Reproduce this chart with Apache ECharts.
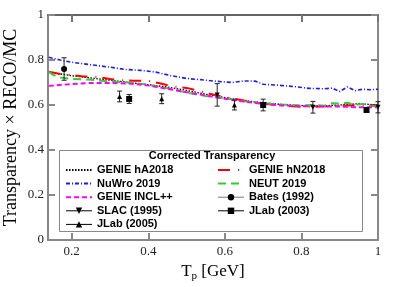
<!DOCTYPE html>
<html><head><meta charset="utf-8">
<script src="https://cdn.jsdelivr.net/npm/echarts@6/dist/echarts.min.js"></script>
<style>html,body{margin:0;padding:0;background:#fff}#c{width:399px;height:287px}</style>
</head><body><div id="c"></div>
<script>
// ---- model curves ----
const hA_T = [0.14,0.17,0.2,0.25,0.3,0.35,0.4,0.45,0.5,0.55,0.6,0.65,0.7,0.75,0.8,0.85,0.9,0.95,1.0];
const hA_V = [0.745,0.738,0.73,0.72,0.71,0.70,0.69,0.68,0.665,0.648,0.633,0.62,0.61,0.602,0.597,0.596,0.6,0.606,0.6];

const hN_T = [0.14,0.17,0.2,0.23,0.26,0.3,0.33,0.36,0.4,0.43,0.46,0.5,0.53,0.56,0.6,0.65,0.7,0.75,0.8,0.85,0.9,0.95,1.0];
const hN_V = [0.748,0.738,0.733,0.727,0.726,0.716,0.71,0.708,0.707,0.697,0.683,0.676,0.664,0.65,0.635,0.62,0.606,0.598,0.592,0.593,0.596,0.6,0.597];

const NuWro_T = [0.14,0.17,0.2,0.25,0.3,0.34,0.38,0.42,0.46,0.5,0.54,0.58,0.62,0.65,0.68,0.7,0.74,0.78,0.82,0.86,0.88,0.9,0.92,0.94,0.96,0.98,1.0];
const NuWro_V = [0.812,0.8,0.79,0.779,0.768,0.758,0.754,0.746,0.73,0.718,0.712,0.705,0.70,0.707,0.706,0.692,0.688,0.682,0.674,0.672,0.675,0.66,0.68,0.664,0.67,0.668,0.67];

const NEUT_T = [0.14,0.15,0.17,0.2,0.25,0.3,0.35,0.4,0.45,0.5,0.55,0.6,0.65,0.7,0.75,0.8,0.83,0.86,0.88,0.9,0.92,0.94,0.96,0.98,1.0];
const NEUT_V = [0.748,0.735,0.722,0.716,0.712,0.705,0.70,0.69,0.674,0.655,0.64,0.63,0.617,0.607,0.602,0.598,0.6,0.597,0.608,0.606,0.61,0.6,0.605,0.596,0.594];

const INCL_T = [0.14,0.2,0.25,0.3,0.35,0.4,0.45,0.5,0.55,0.6,0.65,0.7,0.75,0.8,0.85,0.9,0.95,1.0];
const INCL_V = [0.685,0.693,0.698,0.698,0.695,0.687,0.672,0.657,0.642,0.628,0.615,0.605,0.598,0.595,0.594,0.593,0.59,0.59];

// ---- measurements ----
const SLAC_T = [0.58,0.83,1.0];
const SLAC_V = [0.645,0.59,0.59];
const SLAC_E = [0.05,0.026,0.025];

const JLab05_T = [0.325,0.435,0.625];
const JLab05_V = [0.638,0.628,0.60];
const JLab05_E = [0.024,0.022,0.022];

const Bates_T = [0.18];
const Bates_V = [0.76];
const Bates_E = [0.05];

const JLab03_T = [0.35,0.70,0.97];
const JLab03_V = [0.627,0.60,0.578];
const JLab03_E = [0.02,0.026,0.008];

const xTicks = [0.2,0.4,0.6,0.8,1];

const zip2 = (a,b)=>a.map((v,i)=>[v,b[i]]);
const zip3 = (a,b,c)=>a.map((v,i)=>[v,b[i],c[i]]);

function errRender(params, api){
  const x=api.value(0), y=api.value(1), e=api.value(2);
  const p1=api.coord([x,y+e]), p2=api.coord([x,y-e]);
  const w=2.5, st={stroke:'#222',lineWidth:1};
  return {type:'group', children:[
    {type:'line', shape:{x1:p1[0],y1:p1[1],x2:p2[0],y2:p2[1]}, style:st},
    {type:'line', shape:{x1:p1[0]-w,y1:p1[1],x2:p1[0]+w,y2:p1[1]}, style:st},
    {type:'line', shape:{x1:p2[0]-w,y1:p2[1],x2:p2[0]+w,y2:p2[1]}, style:st}
  ]};
}

function model(name, T, V, color, dash, width){
  return {name, type:'line', data:zip2(T,V), showSymbol:false, symbol:'none', smooth:false,
    lineStyle:{color, type:dash, width}, itemStyle:{color}, z:3};
}
function meas(name, T, V, symbol, size, rot){
  return {name, type:'line', data:zip2(T,V), symbol, symbolSize:size, symbolRotate:rot||0,
    showSymbol:true, clip:false, lineStyle:{opacity:0, color:'#000', width:1},
    itemStyle:{color:'#000'}, z:5};
}
function errs(T,V,E){
  return {type:'custom', renderItem:errRender, data:zip3(T,V,E), clip:false, z:4, silent:true};
}

const legText = {fontFamily:'Liberation Sans, Arial, sans-serif', fontWeight:'bold', fontSize:11, color:'#000', lineHeight:12};
const legLine = {opacity:1, width:1, color:'#000'};
const noSym = {opacity:0};

const chart = echarts.init(document.getElementById('c'), null, {renderer:'canvas'});
chart.setOption({
  animation:false,
  backgroundColor:'#fff',
  grid:{left:48, right:21, top:15, bottom:47, containLabel:false, outerBoundsMode:'none'},
  xAxis:[{
    type:'value', min:0.138, max:1, position:'bottom',
    name:'{a|T}{b|p}{a| [GeV]}', nameLocation:'middle', nameGap:20,
    nameTextStyle:{rich:{
      a:{fontFamily:'Liberation Serif, Times New Roman, serif', fontSize:17, color:'#000'},
      b:{fontFamily:'Liberation Serif, Times New Roman, serif', fontSize:11, color:'#000', padding:[9,0,0,0]}
    }},
    axisLine:{onZero:false, lineStyle:{color:'#888', width:2}},
    axisTick:{inside:true, length:7, customValues:xTicks, lineStyle:{color:'#888', width:2}},
    axisLabel:{customValues:xTicks, margin:5, fontFamily:'Liberation Serif, Times New Roman, serif', fontSize:13, color:'#222'},
    splitLine:{show:false}
  },{
    type:'value', min:0.138, max:1, position:'top',
    axisLine:{onZero:false, lineStyle:{color:'#333', width:1.5}},
    axisTick:{inside:true, length:7, customValues:xTicks, lineStyle:{color:'#777', width:2}},
    axisLabel:{show:false}, splitLine:{show:false}
  }],
  yAxis:[{
    type:'value', min:0, max:1, interval:0.2, position:'left',
    name:'Transparency × RECO/MC', nameLocation:'middle', nameGap:28, nameMoveOverlap:false,
    nameTextStyle:{fontFamily:'Liberation Serif, Times New Roman, serif', fontSize:18, color:'#000'},
    axisLine:{onZero:false, lineStyle:{color:'#888', width:2}},
    axisTick:{inside:true, length:7, lineStyle:{color:'#888', width:2}},
    axisLabel:{margin:4, fontFamily:'Liberation Serif, Times New Roman, serif', fontSize:13, color:'#222'},
    splitLine:{show:false}
  },{
    type:'value', min:0, max:1, interval:0.2, position:'right',
    axisLine:{onZero:false, lineStyle:{color:'#888', width:2}},
    axisTick:{inside:true, length:7, lineStyle:{color:'#888', width:2}},
    axisLabel:{show:false}, splitLine:{show:false}
  }],
  legend:[{
    orient:'vertical', left:65, top:164, padding:0, itemWidth:26, itemHeight:8, itemGap:1.6, z:20,
    textStyle:legText,
    data:[{name:'GENIE hA2018', itemStyle:noSym},{name:'NuWro 2019', itemStyle:noSym},{name:'GENIE INCL++', itemStyle:noSym},
      {name:'SLAC (1995)', lineStyle:legLine},
      {name:'JLab (2005)', lineStyle:legLine}]
  },{
    orient:'vertical', left:217, top:164, padding:0, itemWidth:26, itemHeight:8, itemGap:1.6, z:20,
    textStyle:legText,
    data:[{name:'GENIE hN2018', itemStyle:noSym},{name:'NEUT 2019', itemStyle:noSym},
      {name:'Bates (1992)', lineStyle:{opacity:1, width:1, color:'#777'}},
      {name:'JLab (2003)', lineStyle:legLine}]
  }],
  graphic:[
    {type:'rect', shape:{x:59.5, y:150.5, width:303, height:81}, style:{fill:'#fff', stroke:'#888', lineWidth:1}, z:1},
    {type:'text', x:212, y:156, style:{text:'Corrected Transparency', fontFamily:'Liberation Sans, Arial, sans-serif', fontWeight:'bold', fontSize:11, fill:'#000', align:'center', verticalAlign:'middle'}, z:21}
  ],
  series:[
    model('GENIE hA2018', hA_T, hA_V, '#000000', [1.5,1.5], 1.3),
    model('GENIE hN2018', hN_T, hN_V, '#ff0000', [12,8,1,6], 2),
    model('NuWro 2019', NuWro_T, NuWro_V, '#1a1aff', [4,2,1,2], 1.6),
    model('NEUT 2019', NEUT_T, NEUT_V, '#33cc33', [8,5], 2),
    model('GENIE INCL++', INCL_T, INCL_V, '#ff00ff', [5,3], 2),
    meas('SLAC (1995)', SLAC_T, SLAC_V, 'triangle', 5, 180),
    meas('Bates (1992)', Bates_T, Bates_V, 'circle', 6),
    meas('JLab (2003)', JLab03_T, JLab03_V, 'rect', 6),
    meas('JLab (2005)', JLab05_T, JLab05_V, 'triangle', 5),
    errs(SLAC_T, SLAC_V, SLAC_E),
    errs(Bates_T, Bates_V, Bates_E),
    errs(JLab03_T, JLab03_V, JLab03_E),
    errs(JLab05_T, JLab05_V, JLab05_E)
  ]
});
</script></body></html>
